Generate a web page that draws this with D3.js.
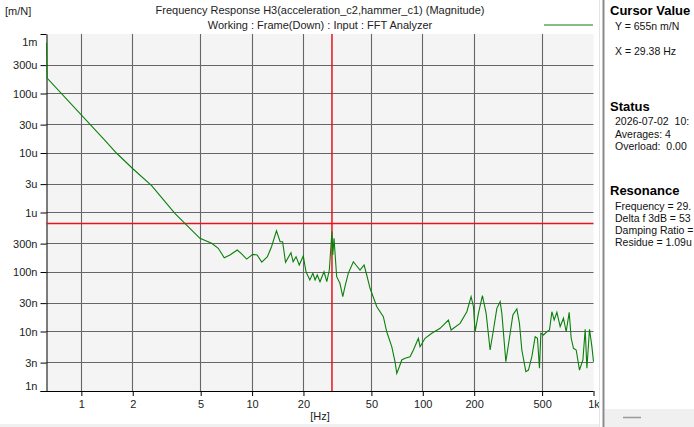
<!DOCTYPE html>
<html>
<head>
<meta charset="utf-8">
<script src="https://cdn.jsdelivr.net/npm/d3@7"></script>
<style>
  body { margin: 0; background: #fff; }
  svg { display: block; font-family: "Liberation Sans", Arial, sans-serif; }
  text { white-space: pre; }
</style>
</head>
<body>
<script>
// frequency bins [Hz] and magnitude [m/N]
const freqHz = [0.625, 0.63, 1.37, 1.61, 2.01, 2.58, 3.53, 4.04, 4.95, 5.8, 6.34, 6.87, 7.42, 8.19, 8.69, 9.3,
  10.08, 10.7, 11.4, 12.3, 13.0, 13.9, 14.6, 15.1, 15.7, 16.9, 17.4, 18.1, 18.9, 19.95,
  20.7, 21.8, 22.7, 23.4, 24.1, 25.0, 26.4, 27.4, 28.35, 29.38, 29.7, 30.2, 31.3, 32.7, 34.0, 35.0, 36.6, 39.2,
  40.6, 42.9, 45.3, 46.96, 49.1, 53.8, 58.75, 61.5, 65.8, 68.8, 70.4, 72.9, 75.3, 78.8, 84.2, 88.1, 94.2, 96.4,
  103.1, 112.9, 126.3, 141.3, 146.5, 165.4, 181.1, 191.9, 198.1, 202.6, 211.8, 223.6, 235, 248, 259.3, 271.6,
  283.9, 290.5, 306.6, 324.9, 337, 355.6, 368.3, 380.4, 401.5, 415.9, 435.4, 455.3, 469.7, 482.5, 491.7,
  509.3, 533.2, 552.3, 570.4, 588.4, 610.3, 637.9, 667, 691.8, 720.4, 740.1, 763.5, 791.8, 827.8, 866.8,
  894, 914.8, 947.4, 978.6, 1000];
const magnitude = [7.1e-4, 1.82e-4, 1.65e-5, 9.9e-6, 5.38e-6, 2.82e-6, 9.7e-7, 6.58e-7, 3.68e-7, 3.03e-7, 2.5e-7, 1.74e-7, 1.93e-7, 2.34e-7, 2.01e-7, 1.65e-7,
  1.98e-7, 1.93e-7, 1.47e-7, 1.81e-7, 2.66e-7, 4.94e-7, 3.23e-7, 3.23e-7, 1.46e-7, 2.11e-7, 1.49e-7, 1.81e-7, 1.31e-7, 1.86e-7,
  1.01e-7, 7.35e-8, 9.5e-8, 7.35e-8, 8.9e-8, 6.87e-8, 1.01e-7, 6.87e-8, 1.08e-7, 4.8e-7, 1.93e-7, 3.68e-7, 8.34e-8, 6.46e-8, 3.85e-8, 5.66e-8, 9.5e-8, 1.49e-7,
  1.31e-7, 1.08e-7, 1.31e-7, 8.9e-8, 5.32e-8, 2.61e-8, 1.77e-8, 9.9e-9, 5.56e-9, 3.1e-9, 1.98e-9, 2.56e-9, 3.32e-9, 3.55e-9, 3.77e-9, 4.89e-9, 7.69e-9, 5.56e-9,
  7.69e-9, 9.33e-9, 1.13e-8, 1.56e-8, 1.06e-8, 1.37e-8, 2.15e-8, 3.85e-8, 2.61e-8, 9.9e-9, 2.02e-8, 4.0e-8, 2.02e-8, 4.89e-9, 1.06e-8, 2.45e-8,
  3.17e-8, 2.02e-8, 3.1e-9, 9.33e-9, 1.89e-8, 2.39e-8, 1.37e-8, 4.89e-9, 2.11e-9, 2.25e-9, 3.77e-9, 8.18e-9, 7.69e-9, 2.41e-9, 9.33e-9,
  8.73e-9, 9.9e-9, 1.06e-8, 2.15e-8, 1.56e-8, 2.1e-8, 1.21e-8, 1.67e-8, 9.9e-9, 2.1e-8, 7.69e-9, 5.22e-9, 4.89e-9, 2.25e-9, 3.32e-9,
  1.09e-8, 2.41e-9, 1.09e-8, 5.56e-9, 3.1e-9];

const xTickValues = [1, 2, 5, 10, 20, 50, 100, 200, 500, 1000];
const xTickLabels = ["1", "2", "5", "10", "20", "50", "100", "200", "500", "1k"];
const yTickValues = [1e-3, 3e-4, 1e-4, 3e-5, 1e-5, 3e-6, 1e-6, 3e-7, 1e-7, 3e-8, 1e-8, 3e-9, 1e-9];
const yTickLabels = ["1m", "300u", "100u", "30u", "10u", "3u", "1u", "300n", "100n", "30n", "10n", "3n", "1n"];

const cursorX = 29.38;
const cursorY = 655e-9;

const titleLines = ["Frequency Response H3(acceleration_c2,hammer_c1) (Magnitude)",
  "Working : Frame(Down) : Input : FFT Analyzer"];
// panel texts as far as they show before the window edge
const cursorLines = ["Y = 655n m/N", "X = 29.38 Hz"];
const statusLines = ["2026-07-02  10:", "Averages: 4", "Overload:  0.00"];
const resonanceLines = ["Frequency = 29.", "Delta f 3dB = 53", "Damping Ratio =", "Residue = 1.09u"];

const W = 694, H = 427;
const plotL = 46.5, plotR = 593.5, plotT = 34, plotB = 391;

const svg = d3.select("body").append("svg")
  .attr("width", W)
  .attr("height", H);

const x = d3.scaleLog().domain([0.625, 1000]).range([plotL, plotR]);
const y = d3.scaleLog().domain([1e-9, 1e-3]).range([plotB, plotT]);
const snap = v => Math.round(v - 0.5) + 0.5;

// plot background
svg.append("rect")
  .attr("x", plotL).attr("y", plotT)
  .attr("width", plotR - plotL).attr("height", plotB - plotT)
  .attr("fill", "#f4f4f4");

// grid
svg.append("g").selectAll("line")
  .data(xTickValues.slice(0, -1))
  .join("line")
  .attr("x1", d => snap(x(d))).attr("x2", d => snap(x(d)))
  .attr("y1", plotT).attr("y2", plotB)
  .attr("stroke", "#666").attr("stroke-width", 1.1);

svg.append("g").selectAll("line")
  .data(yTickValues.slice(1, -1))
  .join("line")
  .attr("x1", plotL).attr("x2", plotR)
  .attr("y1", d => snap(y(d))).attr("y2", d => snap(y(d)))
  .attr("stroke", "#666").attr("stroke-width", 1.1);

// axes
const xAxis = svg.append("g")
  .attr("transform", `translate(0,${plotB})`)
  .call(d3.axisBottom(x).tickValues(xTickValues)
    .tickFormat((d, i) => xTickLabels[i]).tickSize(5).tickSizeOuter(0));
xAxis.select(".domain").attr("d", `M${plotL - 6},0.5H${plotR}`);

const yAxis = svg.append("g")
  .attr("transform", `translate(${plotL},0)`)
  .call(d3.axisLeft(y).tickValues(yTickValues)
    .tickFormat((d, i) => yTickLabels[i]).tickSize(6).tickSizeOuter(0));

svg.selectAll(".tick text")
  .attr("font-family", "Liberation Sans, Arial, sans-serif")
  .attr("font-size", 11)
  .attr("fill", "#222");
svg.selectAll(".domain, .tick line").attr("stroke", "#000");
xAxis.selectAll(".tick text").attr("y", 9);
yAxis.selectAll(".tick text").attr("x", -9);
// end labels are pushed inside the frame
yAxis.selectAll(".tick text").filter(d => d === 1e-3).attr("dy", "1.05em");
yAxis.selectAll(".tick text").filter(d => d === 1e-9).attr("dy", "-0.1em");

// cursor lines
svg.append("line")
  .attr("x1", plotL).attr("x2", plotR)
  .attr("y1", y(cursorY)).attr("y2", y(cursorY))
  .attr("stroke", "#e8141c").attr("stroke-width", 1.5);
svg.append("line")
  .attr("x1", x(cursorX)).attr("x2", x(cursorX))
  .attr("y1", plotT).attr("y2", plotB)
  .attr("stroke", "#e8141c").attr("stroke-width", 1.5);

// curve
const pts = freqHz.map((f, i) => [f, magnitude[i]]);
svg.append("path")
  .datum(pts)
  .attr("fill", "none")
  .attr("stroke", "#0a800a")
  .attr("stroke-width", 1.1)
  .attr("d", d3.line().x(d => x(d[0])).y(d => y(d[1])));

// titles
svg.append("text").attr("x", 5).attr("y", 15)
  .attr("font-size", 11).attr("fill", "#222").text("[m/N]");
svg.selectAll(".title")
  .data(titleLines)
  .join("text")
  .attr("x", 320).attr("y", (d, i) => 14 + i * 15)
  .attr("text-anchor", "middle")
  .attr("font-size", 11).attr("fill", "#222")
  .text(d => d);
svg.append("text").attr("x", 320).attr("y", 420)
  .attr("text-anchor", "middle")
  .attr("font-size", 11).attr("fill", "#222").text("[Hz]");

// legend line
svg.append("line")
  .attr("x1", 544).attr("x2", 593)
  .attr("y1", 25).attr("y2", 25)
  .attr("stroke", "#0a800a").attr("stroke-width", 1.1);

// right info panel
svg.append("line")
  .attr("x1", 599.5).attr("x2", 599.5).attr("y1", 0).attr("y2", H)
  .attr("stroke", "#e4e4e4");
svg.append("rect")
  .attr("x", 602.5).attr("y", 0).attr("width", 2).attr("height", H)
  .attr("fill", "#8a8a8a");
svg.append("rect")
  .attr("x", 605).attr("y", 409).attr("width", W - 605).attr("height", H - 409)
  .attr("fill", "#f0f0f0");
svg.append("line")
  .attr("x1", 623).attr("x2", 641).attr("y1", 417.5).attr("y2", 417.5)
  .attr("stroke", "#9a9a9a").attr("stroke-width", 1.5);
svg.append("rect")
  .attr("x", 0).attr("y", 424).attr("width", 599).attr("height", 3)
  .attr("fill", "#f0f0f0");

const panel = svg.append("g");
function heading(txt, yy) {
  panel.append("text").attr("x", 610).attr("y", yy)
    .attr("font-size", 13).attr("font-weight", "bold").attr("fill", "#000")
    .text(txt);
}
function lines(arr, y0, step) {
  panel.selectAll(null)
    .data(arr)
    .join("text")
    .attr("x", 615).attr("y", (d, i) => y0 + i * step)
    .attr("font-size", 10.5).attr("fill", "#111")
    .text(d => d);
}
heading("Cursor Value", 15);
lines(cursorLines, 30, 25);
heading("Status", 111);
lines(statusLines, 125, 12.5);
heading("Resonance", 195);
lines(resonanceLines, 209.5, 12);
</script>
</body>
</html>
